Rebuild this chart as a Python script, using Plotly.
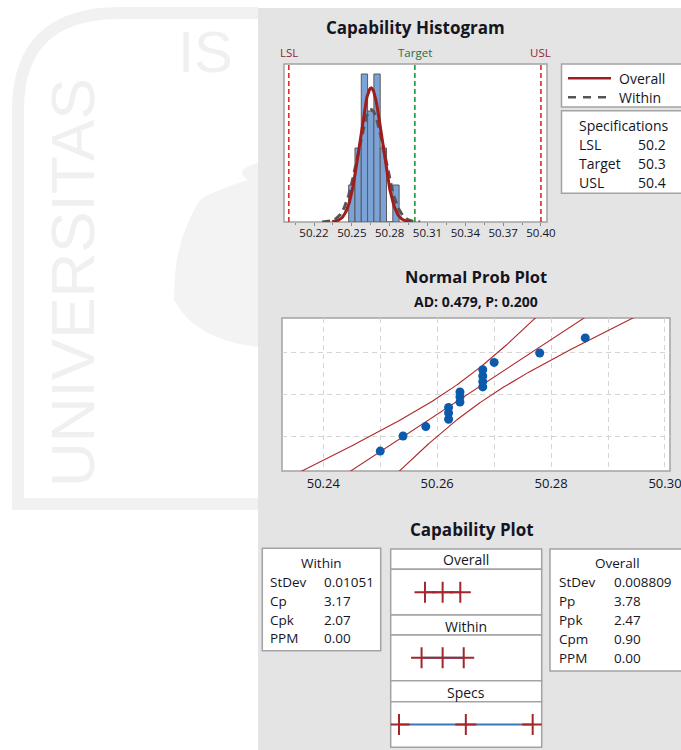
import numpy as np
import plotly.graph_objects as go
from statistics import NormalDist

W, H = 681, 750
FONT = "Open Sans"
TXT = "#15151f"

# ---------------- data ----------------
hist_bin_centers = [50.250, 50.255, 50.260, 50.265, 50.270, 50.275, 50.280, 50.285]
hist_counts = [1, 2, 4, 3, 4, 2, 0, 1]
bin_width = 0.005
hist_tick_vals = [50.22, 50.25, 50.28, 50.31, 50.34, 50.37, 50.40]

prob_values = [50.250, 50.254, 50.258, 50.262, 50.262, 50.262, 50.264, 50.264,
               50.264, 50.268, 50.268, 50.268, 50.268, 50.270, 50.278, 50.286]
prob_tick_vals = [50.24, 50.25, 50.26, 50.27, 50.28, 50.29, 50.30]
prob_tick_text = ["50.24", "", "50.26", "", "50.28", "", "50.30"]
prob_grid_pcts = [0.10, 0.50, 0.90]
ad_text = "AD: 0.479, P: 0.200"

LSL, TARGET, USL = 50.2, 50.3, 50.4
process_mean = 50.2653
stdev_overall = 0.008809
stdev_within = 0.01051

spec_labels = ["LSL", "Target", "USL"]
spec_values = ["50.2", "50.3", "50.4"]
within_labels = ["StDev", "Cp", "Cpk", "PPM"]
within_values = ["0.01051", "3.17", "2.07", "0.00"]
overall_labels = ["StDev", "Pp", "Ppk", "Cpm", "PPM"]
overall_values = ["0.008809", "3.78", "2.47", "0.90", "0.00"]


def px(x):
    return x / W


def py(y):
    return 1 - y / H


fig = go.Figure()

# ---------------- histogram ----------------
n = len(prob_values)
fig.add_trace(go.Bar(x=hist_bin_centers, y=hist_counts, width=bin_width,
                     marker=dict(color="#7ba3d7", line=dict(color="#5a5a5a", width=1)),
                     xaxis="x", yaxis="y", showlegend=False))

xw = np.linspace(process_mean - 3.7 * stdev_within, process_mean + 3.7 * stdev_within, 200)
yw = n * bin_width * np.exp(-0.5 * ((xw - process_mean) / stdev_within) ** 2) / (stdev_within * np.sqrt(2 * np.pi))
fig.add_trace(go.Scatter(x=xw, y=yw, mode="lines", line=dict(color="#555555", width=3, dash="8px,5px"),
                         xaxis="x", yaxis="y", showlegend=False))
xo = np.linspace(process_mean - 3.5 * stdev_overall, process_mean + 3.5 * stdev_overall, 200)
yo = n * bin_width * np.exp(-0.5 * ((xo - process_mean) / stdev_overall) ** 2) / (stdev_overall * np.sqrt(2 * np.pi))
fig.add_trace(go.Scatter(x=xo, y=yo, mode="lines", line=dict(color="#a11d1d", width=3),
                         xaxis="x", yaxis="y", showlegend=False))

HIST_YMAX = 4.27
for v, col in [(LSL, "#e02b2b"), (TARGET, "#1f9a3a"), (USL, "#e02b2b")]:
    fig.add_trace(go.Scatter(x=[v, v], y=[0, HIST_YMAX], mode="lines",
                             line=dict(color=col, width=1.6, dash="5px,3px"),
                             xaxis="x", yaxis="y", showlegend=False))

# ---------------- normal probability plot ----------------
vals = sorted(prob_values)
nd = NormalDist()
zs = [nd.inv_cdf((i + 1 - 0.3) / (n + 0.4)) for i in range(n)]
zl = np.linspace(-2.7, 2.7, 200)
xfit = process_mean + zl * stdev_overall
half = 1.96 * stdev_overall * np.sqrt(1.0 / n + zl ** 2 / (2 * (n - 1)))
for xx in (xfit - half, xfit, xfit + half):
    fig.add_trace(go.Scatter(x=xx, y=zl, mode="lines", line=dict(color="#b0272b", width=1.1),
                             xaxis="x2", yaxis="y2", showlegend=False))
fig.add_trace(go.Scatter(x=vals, y=zs, mode="markers",
                         marker=dict(color="#0b5aab", size=9),
                         xaxis="x2", yaxis="y2", showlegend=False))

# ---------------- capability plot ----------------
cap_rows = [
    ([process_mean - 3 * stdev_overall, process_mean, process_mean + 3 * stdev_overall], "x3", "y3"),
    ([process_mean - 3 * stdev_within, process_mean, process_mean + 3 * stdev_within], "x4", "y4"),
    ([LSL, TARGET, USL], "x5", "y5"),
]
for xs, xa, ya in cap_rows:
    fig.add_trace(go.Scatter(x=xs, y=[0.5] * 3, mode="lines+markers",
                             line=dict(color="#3f74b8", width=2),
                             marker=dict(symbol="cross-thin", size=15,
                                         line=dict(color="#a3262b", width=2)),
                             xaxis=xa, yaxis=ya, showlegend=False))

# ---------------- shapes (all kept inside the 681x750 paper) ----------------
shapes = []


def rect(x0, y0, x1, y1, fill="white", line="#a3a3a3", lw=1.5):
    shapes.append(dict(type="rect", xref="paper", yref="paper",
                       x0=px(x0), x1=px(x1), y0=py(y1), y1=py(y0),
                       fillcolor=fill, line=dict(color=line, width=lw), layer="below"))


def P(x, y):
    return f"{px(x):.5f},{py(y):.5f}"


def open_box(x0, y0, y1, fill="white", line="#a3a3a3", lw=1.5):
    # box running off the right edge: no right border
    shapes.append(dict(type="path", xref="paper", yref="paper", layer="below",
                       path=f"M{P(W, y0)} L{P(x0, y0)} L{P(x0, y1)} L{P(W, y1)}",
                       fillcolor=fill, line=dict(color=line, width=lw)))


# watermark outline + blob (left white area)
shapes.append(dict(type="path", xref="paper", yref="paper", layer="below",
                   path=f"M{P(258,13)} L{P(120,13)} Q{P(18,13)} {P(18,110)} L{P(18,504)} L{P(258,504)}",
                   line=dict(color="#f1f1f1", width=12)))
shapes.append(dict(type="path", xref="paper", yref="paper", layer="below",
                   path=f"M{P(258,163)} Q{P(232,170)} {P(248,180)} Q{P(215,190)} {P(200,200)} "
                        f"Q{P(178,235)} {P(175,275)} L{P(174,300)} Q{P(195,340)} {P(258,347)} Z",
                   fillcolor="#f3f3f3", line=dict(width=0)))

# grey panel
shapes.append(dict(type="rect", xref="paper", yref="paper", layer="below",
                   x0=px(258), x1=1, y0=0, y1=py(8),
                   fillcolor="#e4e4e4", line=dict(width=0)))

# histogram area, legend, specs
rect(284, 64, 547, 222)
open_box(561.5, 64, 107)
open_box(561.5, 110.7, 193.3)
shapes.append(dict(type="line", xref="paper", yref="paper", x0=px(568), x1=px(611), y0=py(78.3), y1=py(78.3),
                   line=dict(color="#a11d1d", width=2.5)))
shapes.append(dict(type="line", xref="paper", yref="paper", x0=px(568), x1=px(611), y0=py(97.3), y1=py(97.3),
                   line=dict(color="#555555", width=2.5, dash="8px,7px")))

# probability plot area
rect(282, 318, 670, 471)

# capability plot boxes
rect(262.3, 548.3, 380.7, 650.7)
open_box(550, 549, 671)
rect(390.7, 549, 541.7, 569.3)
rect(390.7, 569.3, 541.7, 615)
rect(390.7, 615, 541.7, 635)
rect(390.7, 635, 541.7, 680.7)
rect(390.7, 680.7, 541.7, 701.7)
rect(390.7, 701.7, 541.7, 747.3)

# ---------------- annotations ----------------
ann = []


def text(x, y, s, size=13.5, anchor="left", color=TXT, bold=False, xref="paper", angle=0, family=FONT):
    ann.append(dict(x=(px(x) if xref == "paper" else x), y=py(y), xref=xref, yref="paper",
                    text=(f"<b>{s}</b>" if bold else s), showarrow=False,
                    xanchor=anchor, yanchor="middle", textangle=angle,
                    font=dict(size=size, color=color, family=family)))


# watermark text
text(72, 283, "UNIVERSITAS", size=62, anchor="center", color="#f0f0f0", angle=-90, family="Liberation Sans")
text(176, 51, "IS", size=58, anchor="left", color="#f0f0f0", family="Liberation Sans")

# titles
text(415.5, 27, "Capability Histogram", size=17, anchor="center", bold=True)
text(476, 277, "Normal Prob Plot", size=16.5, anchor="center", bold=True)
text(476, 301.5, ad_text, size=14, anchor="center", bold=True)
text(471.5, 529, "Capability Plot", size=17, anchor="center", bold=True)

# spec labels above histogram
for v, s, col in [(LSL, "LSL", "#8e2638"), (TARGET, "Target", "#2d6b45"), (USL, "USL", "#8e2638")]:
    text(v, 52, s, size=11.5, anchor="center", color=col, xref="x")

# legend
text(617, 78.3, "Overall", size=14)
text(617, 97.3, "Within", size=14)

# specifications box
text(577, 125.7, "Specifications", size=14)
for i, (lab, val) in enumerate(zip(spec_labels, spec_values)):
    yy = 144.3 + i * 18.9
    text(577, yy, lab, size=14)
    text(668, yy, val, size=14, anchor="right")

# within table
text(321.5, 563.3, "Within", size=13.5, anchor="center")
for i, (lab, val) in enumerate(zip(within_labels, within_values)):
    yy = 582.3 + i * 18.7
    text(268, yy, lab)
    text(322, yy, val)

# overall table
text(617.3, 563.3, "Overall", size=13.5, anchor="center")
for i, (lab, val) in enumerate(zip(overall_labels, overall_values)):
    yy = 582.3 + i * 18.85
    text(556.5, yy, lab)
    text(612, yy, val)

# middle headers
text(466, 559.5, "Overall", size=14, anchor="center")
text(466, 626, "Within", size=14, anchor="center")
text(466, 692.5, "Specs", size=14, anchor="center")

# ---------------- axes ----------------
hide = dict(visible=False, showgrid=False, zeroline=False, automargin=False, fixedrange=True)
cap_x = dict(domain=[px(390.7), px(541.7)], range=[50.1876, 50.4135], **hide)

layout = dict(
    width=W, height=H, margin=dict(l=0, r=0, t=0, b=0, autoexpand=False),
    paper_bgcolor="white", plot_bgcolor="rgba(0,0,0,0)",
    showlegend=False, bargap=0, dragmode=False,
    shapes=shapes, annotations=ann,
    font=dict(family=FONT, color=TXT),
    xaxis=dict(domain=[px(284), px(547)], range=[50.1962, 50.4048], anchor="y",
               tickmode="array", tickvals=hist_tick_vals,
               ticktext=[f"{v:.2f}" for v in hist_tick_vals],
               ticks="outside", ticklen=3, tickcolor="#8a8a8a", tickwidth=1,
               minor=dict(tickvals=[v + 0.015 for v in [50.19] + hist_tick_vals[:-1]],
                          ticks="outside", ticklen=2, tickcolor="#8a8a8a"),
               tickfont=dict(size=11.5, color=TXT), automargin=False, ticklabelstandoff=-3,
               showgrid=False, zeroline=False, showline=False, fixedrange=True),
    yaxis=dict(domain=[py(222), py(64)], range=[0, HIST_YMAX], anchor="x", **hide),
    xaxis2=dict(domain=[px(282), px(670)], range=[50.23275, 50.30088], anchor="y2",
                tickmode="array", tickvals=prob_tick_vals, ticktext=prob_tick_text,
                ticks="", tickfont=dict(size=13, color=TXT), automargin=False,
                ticklabeloverflow="allow", ticklabelstandoff=3,
                showgrid=True, gridcolor="#d5d5d5", griddash="5px,4px", gridwidth=1,
                zeroline=False, showline=False, fixedrange=True),
    yaxis2=dict(domain=[py(471), py(318)], range=[-2.326, 2.326], anchor="x2",
                tickmode="array", tickvals=[nd.inv_cdf(p) for p in prob_grid_pcts],
                showticklabels=False, ticks="", automargin=False,
                showgrid=True, gridcolor="#d5d5d5", griddash="5px,4px", gridwidth=1,
                zeroline=False, showline=False, fixedrange=True),
    xaxis3=dict(anchor="y3", **cap_x),
    xaxis4=dict(anchor="y4", **cap_x),
    xaxis5=dict(anchor="y5", **cap_x),
    yaxis3=dict(domain=[py(615), py(569.3)], range=[0, 1], anchor="x3", **hide),
    yaxis4=dict(domain=[py(680.7), py(635)], range=[0, 1], anchor="x4", **hide),
    yaxis5=dict(domain=[py(747.3), py(701.7)], range=[0, 1], anchor="x5", **hide),
)
fig.update_layout(**layout)
fig.write_html("out.html", config={"staticPlot": True, "displayModeBar": False},
               post_script="document.body.style.margin='0';document.body.style.overflow='hidden';")
